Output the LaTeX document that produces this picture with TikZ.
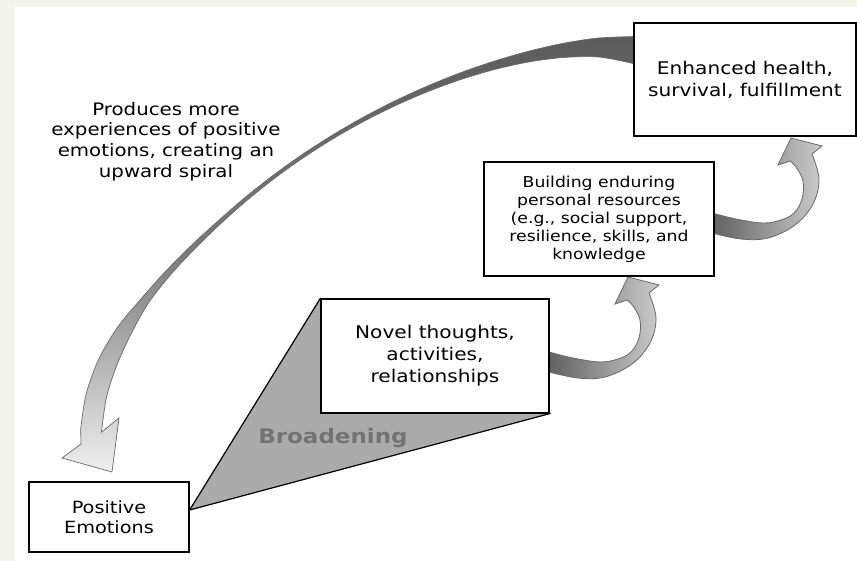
\documentclass[tikz,border=0pt]{standalone}
\usepackage{fontspec}
\newfontfamily\dvs[FakeStretch=1.15]{DejaVu Sans}
\usetikzlibrary{calc,backgrounds,decorations.markings}
\definecolor{bgcream}{RGB}{243,245,234}
\definecolor{arrowline}{RGB}{105,105,105}
\tikzset{
  box/.style={draw=black, line width=1.3pt, fill=white, inner sep=0pt, align=center, text=black},
  bigarrow/.style={draw=arrowline, line width=0.7pt, top color=black!64, bottom color=black!6, middle color=black!52},
  smallarrow/.style={draw=arrowline, line width=0.8pt, left color=black!62, right color=black!20},
  broad/.style={draw=black, line width=1.2pt, fill=black!33},
  bendarrow/.pic={
    \path[smallarrow]
      plot[smooth, tension=0.6] coordinates {(549,352) (573,358) (600,362) (618,359) (631,352) (639,338) (640,320) (633,306) (627,300)}
      -- (615,304) -- (628,277) -- (659,285) -- (649,293)
      -- plot[smooth, tension=0.6] coordinates {(649,293) (656,318) (650,343) (632,364) (605,377) (578,378) (549,372)}
      -- cycle;
  }
}
\begin{document}
\begin{tikzpicture}[x=1pt,y=-1pt]
\useasboundingbox (0,0) rectangle (857,561);

% boxes
\node[box, minimum width=160pt, minimum height=70pt, font=\dvs\fontsize{16.8}{20}\selectfont] (pe) at (109,517) {Positive\\Emotions};
\node[box, minimum width=228pt, minimum height=114pt, font=\dvs\fontsize{17.5}{22}\selectfont] (novel) at (435,356) {Novel thoughts,\\activities,\\relationships};
\node[box, minimum width=230pt, minimum height=114pt, font=\dvs\fontsize{15}{18}\selectfont] (build) at (599,219) {Building enduring\\personal resources\\(e.g., social support,\\resilience, skills, and\\knowledge};
\node[box, minimum width=222pt, minimum height=113pt, font=\dvs\fontsize{17.5}{22}\selectfont] (enh) at (745,79.5) {Enhanced health,\\survival, fulfillment};

% free texts
\node[align=center, inner sep=0pt, text=black, font=\dvs\fontsize{17.2}{20.7}\selectfont] (spiral) at (166,141.6) {Produces more\\experiences of positive\\emotions, creating an\\upward spiral};

% centre line of the return arrow (sampled, not drawn)
\path[decorate, decoration={markings,
   mark=between positions 0 and 1 step 0.0499 with {\coordinate (c\pgfkeysvalueof{/pgf/decoration/mark info/sequence number});}}]
  (634,50) .. controls (560,36) and (380,80) .. (232,211)
           .. controls (170,266) and (95,340) .. (91,432);

\foreach \i/\w in {1/13.5pt,2/9.5pt,3/7pt,4/5.2pt,5/4pt,6/3.2pt,7/2.6pt,8/2.2pt,9/1.9pt,10/1.7pt,11/1.6pt,12/1.6pt,13/1.7pt,14/1.9pt,15/2.4pt,16/3pt,17/4.2pt,18/7.5pt,19/9.5pt,20/10.3pt}{
  \pgfmathtruncatemacro\j{\i+1}
  \coordinate (o\i) at ($(c\i)!\w!-90:(c\j)$);
  \coordinate (n\i) at ($(c\i)!\w!90:(c\j)$);
}
\coordinate (o21) at ($(c21)!10.5pt!90:(c20)$);
\coordinate (n21) at ($(c21)!10.5pt!-90:(c20)$);
\coordinate (neckL) at (81,444);
\coordinate (barbL) at (62,458);
\coordinate (tipA) at (112,472);
\coordinate (barbR) at (119,418);

\begin{scope}[on background layer]
  \fill[white] (0,0) rectangle (857,561);
  \fill[bgcream] (0,0) rectangle (14,561);
  \fill[bgcream] (0,0) rectangle (857,7);

  % big return arrow
  \path[bigarrow]
    plot[smooth, tension=0.5] coordinates {(o1) (o2) (o3) (o4) (o5) (o6) (o7) (o8) (o9) (o10) (o11) (o12) (o13) (o14) (o15) (o16) (o17) (o18) (o19) (o20) (o21)}
    -- (neckL) -- (barbL) -- (tipA) -- (barbR)
    -- plot[smooth, tension=0.5] coordinates {(n21) (n20) (n19) (n18) (n17) (n16) (n15) (n14) (n13) (n12) (n11) (n10) (n9) (n8) (n7) (n6) (n5) (n4) (n3) (n2) (n1)}
    -- cycle;

  % broadening wedge
  \path[broad] ([yshift=7pt]pe.east) -- (novel.north west) -- (novel.south east) -- cycle;

  % small curved arrows
  \pic {bendarrow};
  \pic[shift={(163,-139)}] {bendarrow};
\end{scope}

\node[anchor=base, inner sep=0pt, text=black!55, font=\dvs\bfseries\fontsize{20}{24}\selectfont] (broadening) at (333,443) {Broadening};
\end{tikzpicture}
\end{document}
